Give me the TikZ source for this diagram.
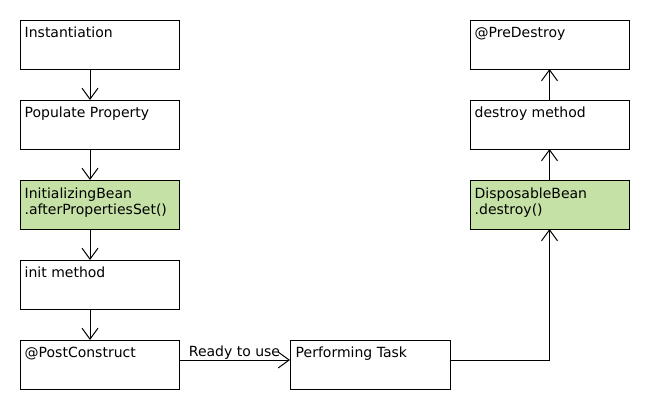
\documentclass[tikz,border=0pt]{standalone}
\usepackage{fontspec}
\setmainfont{DejaVu Sans}
\usetikzlibrary{arrows.meta}
\definecolor{beangreen}{HTML}{C5E1A5}
\newcommand{\twolines}[2]{\vtop{\baselineskip=16pt\hbox{#1}\hbox{#2}}}
\begin{document}
\begin{tikzpicture}[x=1pt,y=-1pt,
  box/.style={draw=black, line width=1pt, fill=white, minimum width=159pt, minimum height=49pt, inner sep=0pt, outer sep=0pt},
  greenbox/.style={box, fill=beangreen},
  lbl/.style={anchor=base west, inner sep=0pt, font=\fontsize{14}{16}\selectfont},
  conn/.style={draw=black, line width=1pt, -{Straight Barb[length=11pt,width=16pt,line width=1pt]}}
]
\useasboundingbox (0,0) rectangle (650,410);
% left column
\node[box] (inst) at (99.5,44.5) {};
\node[box] (pop) at (99.5,124.5) {};
\node[greenbox] (ib) at (99.5,204.5) {};
\node[box] (init) at (99.5,284.5) {};
\node[box] (post) at (99.5,364.5) {};
% middle
\node[box, minimum width=160pt] (task) at (370,364.5) {};
% right column
\node[box] (pre) at (549.5,44.5) {};
\node[box] (dm) at (549.5,124.5) {};
\node[greenbox] (db) at (549.5,204.5) {};
% labels
\node[lbl] (t1) at ([shift={(4.5,17.5)}]inst.north west) {Instantiation};
\node[lbl] (t2) at ([shift={(4.5,17.5)}]pop.north west) {Populate Property};
\node[lbl] (t3) at ([shift={(4.5,18)}]ib.north west) {\twolines{InitializingBean}{.afterPropertiesSet()}};
\node[lbl] (t4) at ([shift={(4.5,17.5)}]init.north west) {init method};
\node[lbl] (t5) at ([shift={(4.5,17.5)}]post.north west) {@PostConstruct};
\node[lbl] (t6) at ([shift={(5.5,17.5)}]task.north west) {Performing Task};
\node[lbl] (t7) at ([shift={(4.5,17.5)}]pre.north west) {@PreDestroy};
\node[lbl] (t8) at ([shift={(4.5,17.5)}]dm.north west) {destroy method};
\node[lbl] (t9) at ([shift={(4.5,18)}]db.north west) {\twolines{DisposableBean}{.destroy()}};
% connectors
\draw[conn] ([xshift=-9.5pt]inst.south) -- ([xshift=-9.5pt]pop.north);
\draw[conn] ([xshift=-9.5pt]pop.south) -- ([xshift=-9.5pt]ib.north);
\draw[conn] ([xshift=-9.5pt]ib.south) -- ([xshift=-9.5pt]init.north);
\draw[conn] ([xshift=-9.5pt]init.south) -- ([xshift=-9.5pt]post.north);
\draw[conn] ([yshift=-20pt]post.north east) -- node[lbl, anchor=base, pos=0.5, yshift=4pt] (rl) {Ready to use} ([yshift=-20pt]task.north west);
\draw[conn] ([yshift=-20pt]task.north east) -| (db.south);
\draw[conn] (db.north) -- (dm.south);
\draw[conn] (dm.north) -- (pre.south);
\end{tikzpicture}
\end{document}
